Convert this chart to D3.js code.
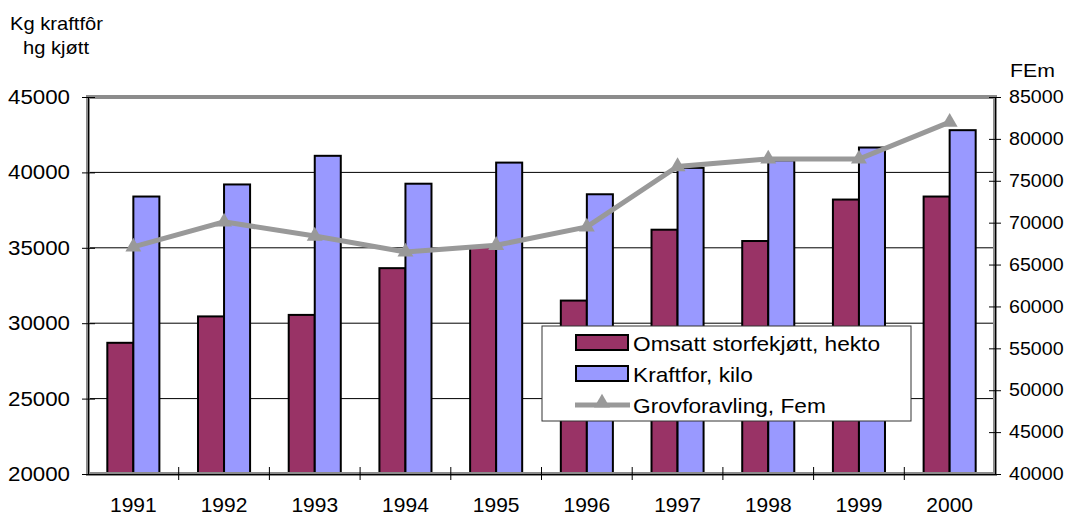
<!DOCTYPE html>
<meta charset="utf-8">
<style>
body { margin: 0; background: #fff; }
text { font-family: Arial, 'Liberation Sans', sans-serif; fill: #000; }
.meat { fill: #993366; stroke: #000; stroke-width: 2; }
.feed { fill: #9999ff; stroke: #000; stroke-width: 2; }
</style>
<svg id="chart" width="1070" height="516"></svg>
<script src="https://d3js.org/d3.v7.min.js"></script>
<script>

var years = ["1991", "1992", "1993", "1994", "1995", "1996", "1997", "1998", "1999", "2000"];
var meatValues = [28700, 30450, 30550, 33650, 35050, 31500, 36200, 35450, 38200, 38400];
var feedValues = [38400, 39200, 41100, 39250, 40650, 38550, 40300, 40800, 41650, 42800];
var roughageValues = [67100, 70100, 68400, 66500, 67300, 69500, 76700, 77600, 77600, 82000];
var leftTicks = [20000, 25000, 30000, 35000, 40000, 45000];
var rightTicks = [40000, 45000, 50000, 55000, 60000, 65000, 70000, 75000, 80000, 85000];
var seriesNames = ["Omsatt storfekjøtt, hekto", "Kraftfor, kilo", "Grovforavling, Fem"];

var svg = d3.select("#chart");
var plot = {left: 88, right: 995, top: 97, bottom: 474};

// the original text is a bit wider than it is tall
var stretch = function(sel, k) {
    sel.each(function() {
        var w = this.getComputedTextLength();
        d3.select(this).attr("textLength", w * k).attr("lengthAdjust", "spacingAndGlyphs");
    });
};

var x = d3.scaleBand().domain(years).range([plot.left, plot.right]);
var yLeft = d3.scaleLinear().domain([20000, 45000]).range([plot.bottom, plot.top]);
var yRight = d3.scaleLinear().domain([40000, 85000]).range([plot.bottom, plot.top]);
var barW = x.bandwidth() * 0.287;

// gridlines
svg.append("g").selectAll("line")
    .data(leftTicks.slice(1, -1))
    .enter().append("line")
    .attr("x1", plot.left).attr("x2", plot.right)
    .attr("y1", function(d) { return yLeft(d); })
    .attr("y2", function(d) { return yLeft(d); })
    .attr("stroke", "#000").attr("stroke-width", 1);

// bars
svg.append("g").selectAll("rect")
    .data(meatValues)
    .enter().append("rect")
    .attr("class", "meat")
    .attr("x", function(d, i) { return x(years[i]) + x.bandwidth() / 2 - barW; })
    .attr("y", function(d) { return yLeft(d); })
    .attr("width", barW)
    .attr("height", function(d) { return plot.bottom - yLeft(d); });

svg.append("g").selectAll("rect")
    .data(feedValues)
    .enter().append("rect")
    .attr("class", "feed")
    .attr("x", function(d, i) { return x(years[i]) + x.bandwidth() / 2; })
    .attr("y", function(d) { return yLeft(d); })
    .attr("width", barW)
    .attr("height", function(d) { return plot.bottom - yLeft(d); });

// plot frame
svg.append("rect")
    .attr("x", plot.left).attr("y", plot.top)
    .attr("width", plot.right - plot.left).attr("height", plot.bottom - plot.top)
    .attr("fill", "none").attr("stroke", "#8c8c8c").attr("stroke-width", 4);

// axes
var leftAxis = svg.append("g")
    .attr("transform", "translate(" + plot.left + ",0)")
    .call(d3.axisLeft(yLeft).tickValues(leftTicks).tickSize(6).tickPadding(12).tickFormat(d3.format("d")));
leftAxis.selectAll("text").attr("font-size", 20).attr("font-family", null);

var rightAxis = svg.append("g")
    .attr("transform", "translate(" + plot.right + ",0)")
    .call(d3.axisRight(yRight).tickValues(rightTicks).tickSize(6).tickPadding(8).tickFormat(d3.format("d")));
rightAxis.selectAll("text").attr("font-size", 18).attr("font-family", null);

var bottomAxis = svg.append("g")
    .attr("transform", "translate(0," + plot.bottom + ")")
    .call(d3.axisBottom(x).tickSize(0).tickPadding(23));
bottomAxis.selectAll("text").attr("font-size", 21).attr("font-family", null);
bottomAxis.selectAll(".tick line").remove();

// category separator ticks
svg.append("g").selectAll("line")
    .data(years.slice(1))
    .enter().append("line")
    .attr("x1", function(d) { return x(d); })
    .attr("x2", function(d) { return x(d); })
    .attr("y1", plot.bottom - 7).attr("y2", plot.bottom + 6)
    .attr("stroke", "#000");

[leftAxis, rightAxis, bottomAxis].forEach(function(a) {
    a.selectAll(".tick line").attr("stroke", "#000");
    a.select(".domain").attr("stroke", "#000");
});
leftAxis.selectAll(".tick line").attr("x2", 7).attr("x1", -6);
rightAxis.selectAll(".tick line").attr("x1", -6).attr("x2", 6);

// roughage line
var line = d3.line()
    .x(function(d, i) { return x(years[i]) + x.bandwidth() / 2; })
    .y(function(d) { return yRight(d); });

svg.append("path")
    .datum(roughageValues)
    .attr("d", line)
    .attr("fill", "none")
    .attr("stroke", "#999999")
    .attr("stroke-width", 5);

var tri = d3.symbol().type(d3.symbolTriangle).size(110);
svg.append("g").selectAll("path")
    .data(roughageValues)
    .enter().append("path")
    .attr("d", tri)
    .attr("transform", function(d, i) {
        return "translate(" + (x(years[i]) + x.bandwidth() / 2) + "," + yRight(d) + ")";
    })
    .attr("fill", "#999999");

// axis titles
var t1 = svg.append("text").attr("x", 10).attr("y", 30).attr("font-size", 19).text("Kg kraftfôr");
var t2 = svg.append("text").attr("x", 23).attr("y", 54).attr("font-size", 19).text("hg kjøtt");
var t3 = svg.append("text").attr("x", 1010).attr("y", 77).attr("font-size", 19).text("FEm");

// legend
var legend = svg.append("g").attr("transform", "translate(542,326)");
legend.append("rect")
    .attr("width", 369).attr("height", 95)
    .attr("fill", "#fff").attr("stroke", "#333").attr("stroke-width", 1);

var legendRows = legend.selectAll(".row")
    .data(seriesNames)
    .enter().append("g")
    .attr("class", "row")
    .attr("transform", function(d, i) { return "translate(0," + (17 + i * 31) + ")"; });

legendRows.filter(function(d, i) { return i < 2; })
    .append("rect")
    .attr("class", function(d, i) { return i === 0 ? "meat" : "feed"; })
    .attr("x", 34).attr("y", -8)
    .attr("width", 52).attr("height", 15);

var lineRow = legendRows.filter(function(d, i) { return i === 2; });
lineRow.append("line")
    .attr("x1", 33).attr("x2", 88)
    .attr("stroke", "#999999").attr("stroke-width", 5);
lineRow.append("path")
    .attr("d", tri)
    .attr("transform", "translate(60,-2)")
    .attr("fill", "#999999");

var legendText = legendRows.append("text")
    .attr("x", 91).attr("y", 8)
    .attr("font-size", 21)
    .text(function(d) { return d; });

stretch(leftAxis.selectAll("text"), 1.115);
stretch(rightAxis.selectAll("text"), 1.09);
stretch(legendText, 1.08);
stretch(t1, 1.06);
stretch(t2, 1.06);
stretch(t3, 1.12);

</script>
